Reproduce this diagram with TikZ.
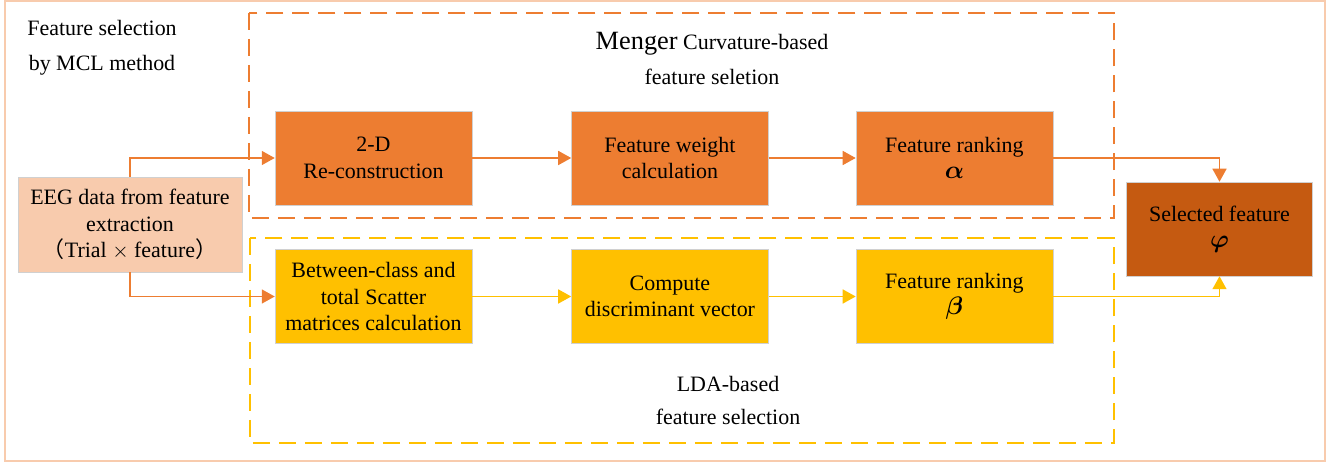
\documentclass[tikz,border=0pt]{standalone}
\usepackage{fontspec}
\setmainfont{Liberation Serif}
\newfontfamily\cjk{Noto Sans CJK SC}
\usetikzlibrary{arrows.meta,positioning}
\definecolor{peach}{HTML}{F8CBAD}
\definecolor{orange}{HTML}{ED7D31}
\definecolor{amber}{HTML}{FFC000}
\definecolor{rust}{HTML}{C55A11}
\definecolor{edge}{HTML}{D0D0D0}
\newcommand{\greek}[1]{{\fontsize{15}{15}\selectfont$\boldsymbol{#1}$}}
\usepackage{amsmath}

\begin{document}
\begin{tikzpicture}[x=0.02cm,y=-0.02cm,>={Triangle[length=0.26cm,width=0.28cm]},node distance=1.98cm,
  font=\fontsize{12.5}{15}\selectfont]
  \tikzset{stepbox/.style={draw=edge,line width=0.3pt,minimum width=3.94cm,minimum height=1.88cm,align=center,inner sep=2pt},
    orangebox/.style={stepbox,fill=orange},
    yellowbox/.style={stepbox,fill=amber},
    orangeline/.style={orange,line width=0.9pt},
    yellowline/.style={amber,line width=0.9pt},
    groupframe/.style={line width=1pt,dash pattern=on 0.34cm off 0.18cm}}
  \useasboundingbox (0,0) rectangle (1339,465);
  \draw[peach,line width=1.2pt] (5,1) rectangle (1325,461);
  \node[align=center] (title) at (102,48) {Feature selection\\[0.18cm]by MCL method};
  % dashed group frames
  \draw[groupframe,orange] (249,13) rectangle (1114,218);
  \draw[groupframe,amber] (250,238) rectangle (1114,443);
  \node (mengertitle) at (712,44) {{\fontsize{15}{17}\selectfont Menger} Curvature-based};
  \node (mengersub) at (712,77) {feature seletion};
  \node (ldatitle) at (728,384) {LDA-based};
  \node (ldasub) at (728,417) {feature selection};
  % steps
  \node[orangebox] (recon) at (373.5,158) {2-D\\Re-construction};
  \node[orangebox,right=of recon] (weight) {Feature weight\\calculation};
  \node[orangebox,right=1.74cm of weight] (rankA) {Feature ranking\\\greek{\alpha}};
  \node[yellowbox,below=0.88cm of recon] (scatter) {Between-class and\\total Scatter\\matrices calculation};
  \node[yellowbox,right=of scatter] (discrim) {Compute\\discriminant vector};
  \node[yellowbox,right=1.74cm of discrim] (rankB) {Feature ranking\\\greek{\beta}};
  \node[stepbox,fill=peach,minimum width=4.48cm,minimum height=1.9cm] (eeg) at (130,224.5)
    {EEG data from feature\\extraction\\{\cjk （}Trial $\times$ feature{\cjk ）}};
  \node[stepbox,fill=rust,minimum width=3.72cm] (selected) at (1219.5,229) {Selected feature\\\greek{\varphi}};
  % connectors
  \draw[orangeline,->] (eeg.north) |- (recon.west);
  \draw[orangeline,->] (eeg.south) |- (scatter.west);
  \draw[orangeline,->] (recon) -- (weight);
  \draw[orangeline,->] (weight) -- (rankA);
  \draw[yellowline,->] (scatter) -- (discrim);
  \draw[yellowline,->] (discrim) -- (rankB);
  \draw[orangeline,->] (rankA.east) -| (selected.north);
  \draw[yellowline,->] (rankB.east) -| (selected.south);
\end{tikzpicture}
\end{document}
